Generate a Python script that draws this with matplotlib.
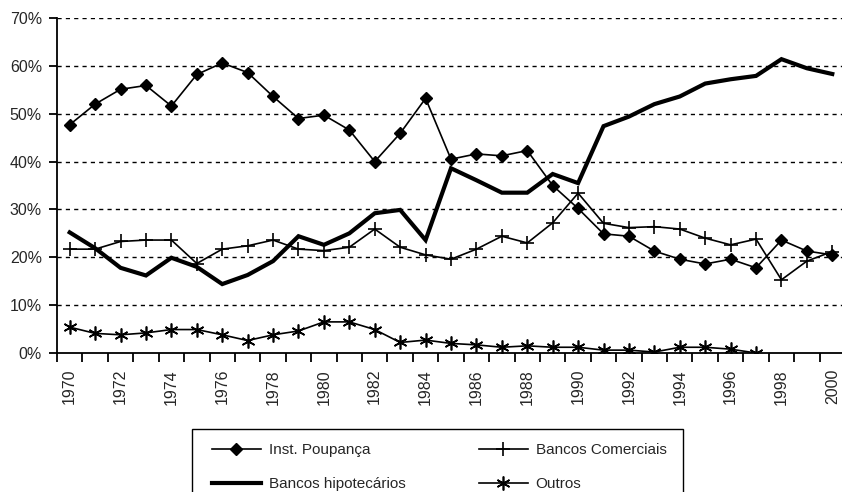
""" Participação no crédito imobiliário por tipo de instituição, 1970-2000. """

import numpy as np
import matplotlib
matplotlib.use("Agg")
import matplotlib.pyplot as plt
from matplotlib.patches import Rectangle
from matplotlib.ticker import FixedLocator, NullFormatter, FixedFormatter

# Data (percent)
years = list(range(1970, 2001))

inst_poupanca = [47.7, 52.0, 55.1, 55.9, 51.6, 58.2, 60.6, 58.6, 53.6, 49.0,
                 49.7, 46.6, 40.0, 45.9, 53.2, 40.5, 41.6, 41.2, 42.3, 35.0,
                 30.2, 24.9, 24.4, 21.3, 19.6, 18.6, 19.6, 17.8, 23.6, 21.3,
                 20.5]

bancos_comerciais = [21.7, 21.7, 23.3, 23.6, 23.6, 18.7, 21.7, 22.4, 23.6, 21.7,
                     21.4, 22.1, 25.9, 22.1, 20.5, 19.6, 21.7, 24.4, 23.0, 27.2,
                     33.4, 27.1, 26.2, 26.4, 25.9, 24.0, 22.6, 23.8, 15.3, 19.2,
                     21.2]

bancos_hipotecarios = [25.2, 21.9, 17.8, 16.2, 19.9, 18.0, 14.4, 16.3, 19.2, 24.4,
                       22.6, 25.0, 29.2, 29.9, 23.6, 38.6, 36.1, 33.5, 33.5, 37.4,
                       35.5, 47.4, 49.4, 52.0, 53.6, 56.3, 57.2, 57.9, 61.4, 59.5,
                       58.3]

outros_years = list(range(1970, 1998))
outros = [5.4, 4.1, 3.8, 4.2, 4.9, 4.9, 3.8, 2.6, 3.8, 4.6,
          6.5, 6.5, 4.9, 2.2, 2.7, 2.0, 1.7, 1.2, 1.5, 1.2,
          1.2, 0.6, 0.6, 0.2, 1.2, 1.2, 0.8, 0.0]

y_ticks = [0, 10, 20, 30, 40, 50, 60, 70]
label_years = [y for y in years if y % 2 == 0]

# Style
plt.rcParams['font.family'] = ['Liberation Sans', 'DejaVu Sans']
text_color = '#262626'

W, H = 842, 492
fig = plt.figure(figsize=(W / 100, H / 100), dpi=100)
ax = fig.add_axes([57 / W, (H - 353) / H, 788 / W, 335 / H])

# Grid lines
for v in y_ticks[1:]:
    ax.axhline(v, color='black', lw=1.0, ls=(0, (3, 3)), zorder=1)

l_ip, = ax.plot(years, inst_poupanca, color='black', lw=1.2, marker='D',
                markersize=5.8, markerfacecolor='black', markeredgewidth=1,
                zorder=3, label='Inst. Poupança')
l_bc, = ax.plot(years, bancos_comerciais, color='black', lw=1.2, marker='+',
                markersize=10, markeredgewidth=1.2, zorder=3,
                label='Bancos Comerciais')
l_bh, = ax.plot(years, bancos_hipotecarios, color='black', lw=3.0,
                solid_joinstyle='miter', zorder=4, label='Bancos hipotecários')
l_ou, = ax.plot(outros_years, outros, color='black', lw=1.2, marker=(6, 2, 0),
                markersize=10, markeredgewidth=1.2, zorder=3, label='Outros')

# Axes
ax.set_xlim(1969.5, 2000.5)
ax.set_ylim(0, 70)
for s in ['top', 'right']:
    ax.spines[s].set_visible(False)
for s in ['left', 'bottom']:
    ax.spines[s].set_linewidth(1.3)
    ax.spines[s].set_color('black')

ax.xaxis.set_major_locator(FixedLocator(np.arange(1969.5, 2001, 1.0)))
ax.xaxis.set_major_formatter(NullFormatter())
ax.xaxis.set_minor_locator(FixedLocator(label_years))
ax.xaxis.set_minor_formatter(FixedFormatter([str(y) for y in label_years]))
ax.tick_params(axis='x', which='major', direction='out', length=6.5,
               width=1.3, color='black')
ax.tick_params(axis='x', which='minor', length=0, pad=11.5, labelsize=11.5,
               labelcolor=text_color, labelrotation=90)

ax.set_yticks(y_ticks)
ax.set_yticklabels([f'{v}%' for v in y_ticks])
ax.tick_params(axis='y', direction='out', length=5.8, width=1.3,
               color='black', labelsize=11.5, labelcolor=text_color, pad=5)

# Legend (frame drawn separately, it runs past the bottom edge)
fig.patches.append(Rectangle((192 / W, -0.1), (683 - 192) / W,
                             0.1 + (H - 429) / H, transform=fig.transFigure,
                             facecolor='white', edgecolor='black', lw=1.0,
                             zorder=0))
handles = [l_ip, l_bh, l_bc, l_ou]
leg = fig.legend(handles=handles, labels=[h.get_label() for h in handles],
                 ncol=2, loc='upper left',
                 bbox_to_anchor=(212 / W, 1 - 443 / H),
                 frameon=False, fontsize=11, handlelength=3.2,
                 handletextpad=0.52, columnspacing=4.8, labelspacing=1.3,
                 borderpad=0, borderaxespad=0)
for t in leg.get_texts():
    t.set_color(text_color)

fig.savefig('out.png', dpi=100)
